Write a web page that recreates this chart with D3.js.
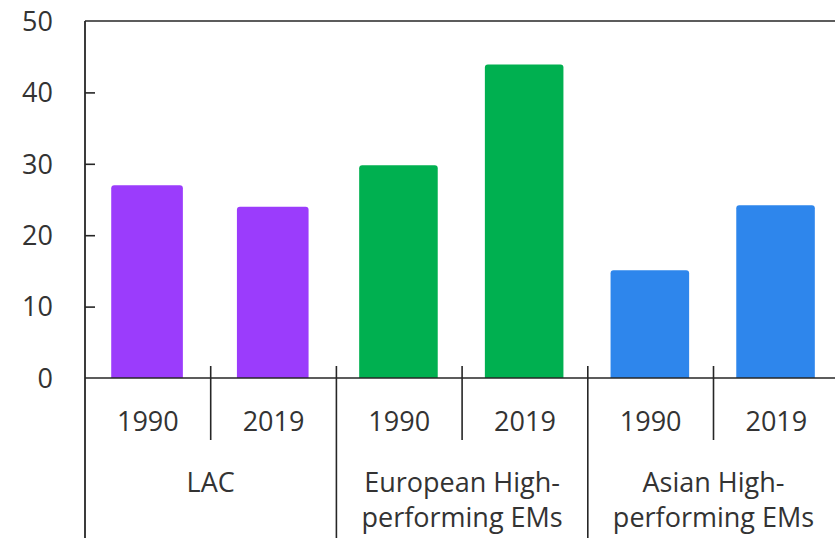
<!DOCTYPE html>
<html>
<head>
<meta charset="utf-8">
<script src="https://cdn.jsdelivr.net/npm/d3@7"></script>
<style>
  html, body { margin: 0; padding: 0; background: #fff; }
  svg { display: block; }
  text { font-family: "Open Sans", "Noto Sans", sans-serif; fill: #333; }
</style>
</head>
<body>
<svg id="chart" width="835" height="538"></svg>
<script>
// Region groups and their two observation years
const groups = ["LAC", "European High-performing EMs", "Asian High-performing EMs"];
const groupLines = [["LAC"], ["European High-", "performing EMs"], ["Asian High-", "performing EMs"]];
const years = ["1990", "2019"];
const values1990 = [27.0, 29.8, 15.1];
const values2019 = [24.0, 43.9, 24.2];
const yTicks = [0, 10, 20, 30, 40, 50];

const colors = ["#9b3cfc", "#00b050", "#2e86ec"];
const barWidthShare = [0.57, 0.625, 0.625];
const fontSize = 27;

const svg = d3.select("#chart");
const plotLeft = 85, plotTop = 21, plotBottom = 378, bandW = 125.7;
const plotRight = plotLeft + bandW * groups.length * years.length;

const rows = [];
groups.forEach((g, gi) => {
  years.forEach((yr, yi) => {
    rows.push({ key: g + "|" + yr, group: g, gi, year: yr, value: yi === 0 ? values1990[gi] : values2019[gi] });
  });
});

const x = d3.scaleBand().domain(rows.map(d => d.key)).range([plotLeft, plotRight]).padding(0);
const xGroup = d3.scaleBand().domain(groups).range([plotLeft, plotRight]).padding(0);
const y = d3.scaleLinear().domain([0, 50]).range([plotBottom, plotTop]);

// Bars with slightly rounded top corners
const r = 3;
function barPath(x0, x1, y0, y1) {
  return `M${x0},${y0}V${y1 + r}Q${x0},${y1} ${x0 + r},${y1}H${x1 - r}Q${x1},${y1} ${x1},${y1 + r}V${y0}Z`;
}
svg.append("g").selectAll("path").data(rows).join("path")
  .attr("d", d => {
    const w = x.bandwidth() * barWidthShare[d.gi];
    const cx = x(d.key) + x.bandwidth() / 2 - 0.8;
    return barPath(cx - w / 2, cx + w / 2, y(0), y(d.value));
  })
  .attr("fill", d => colors[d.gi]);

// Frame: top border and left axis
const lineColor = "#262626";
svg.append("line").attr("x1", plotLeft).attr("x2", 835).attr("y1", plotTop).attr("y2", plotTop)
  .attr("stroke", lineColor).attr("stroke-width", 1.6);

const yAxis = d3.axisRight(y).tickValues(yTicks).tickSize(10).tickFormat("");
const gy = svg.append("g").attr("transform", `translate(${plotLeft},0)`).call(yAxis);
gy.select(".domain").remove();
gy.selectAll(".tick line").attr("stroke", lineColor).attr("stroke-width", 1.6);
gy.selectAll(".tick").filter(d => d === 0 || d === 50).select("line").remove();

svg.append("line").attr("x1", plotLeft).attr("x2", plotLeft).attr("y1", plotTop).attr("y2", 538)
  .attr("stroke", lineColor).attr("stroke-width", 1.8);

svg.append("g").selectAll("text").data(yTicks).join("text")
  .attr("x", 53).attr("y", d => y(d)).attr("dy", "0.36em")
  .attr("text-anchor", "end").attr("font-size", fontSize)
  .text(d => d);

// Category axis baseline
svg.append("line").attr("x1", plotLeft).attr("x2", 835).attr("y1", plotBottom).attr("y2", plotBottom)
  .attr("stroke", lineColor).attr("stroke-width", 1.6);

// Dividers between years within a group
svg.append("g").selectAll("line").data(groups).join("line")
  .attr("x1", g => xGroup(g) + xGroup.bandwidth() / 2).attr("x2", g => xGroup(g) + xGroup.bandwidth() / 2)
  .attr("y1", 366).attr("y2", 440)
  .attr("stroke", lineColor).attr("stroke-width", 1.6);

// Dividers between groups
svg.append("g").selectAll("line").data(groups.slice(1)).join("line")
  .attr("x1", g => xGroup(g)).attr("x2", g => xGroup(g))
  .attr("y1", 366).attr("y2", 538)
  .attr("stroke", lineColor).attr("stroke-width", 1.6);

// Year labels
svg.append("g").selectAll("text").data(rows).join("text")
  .attr("x", d => x(d.key) + x.bandwidth() / 2).attr("y", 431)
  .attr("text-anchor", "middle").attr("font-size", fontSize)
  .text(d => d.year);

// Group labels
const gl = svg.append("g").selectAll("text").data(groups).join("text")
  .attr("x", g => xGroup(g) + xGroup.bandwidth() / 2)
  .attr("y", 492)
  .attr("text-anchor", "middle").attr("font-size", fontSize);
gl.each(function(g, i) {
  const t = d3.select(this);
  groupLines[i].forEach((line, li) => {
    t.append("tspan").attr("x", xGroup(g) + xGroup.bandwidth() / 2)
      .attr("y", 492 + li * 35).text(line);
  });
});
</script>
</body>
</html>
